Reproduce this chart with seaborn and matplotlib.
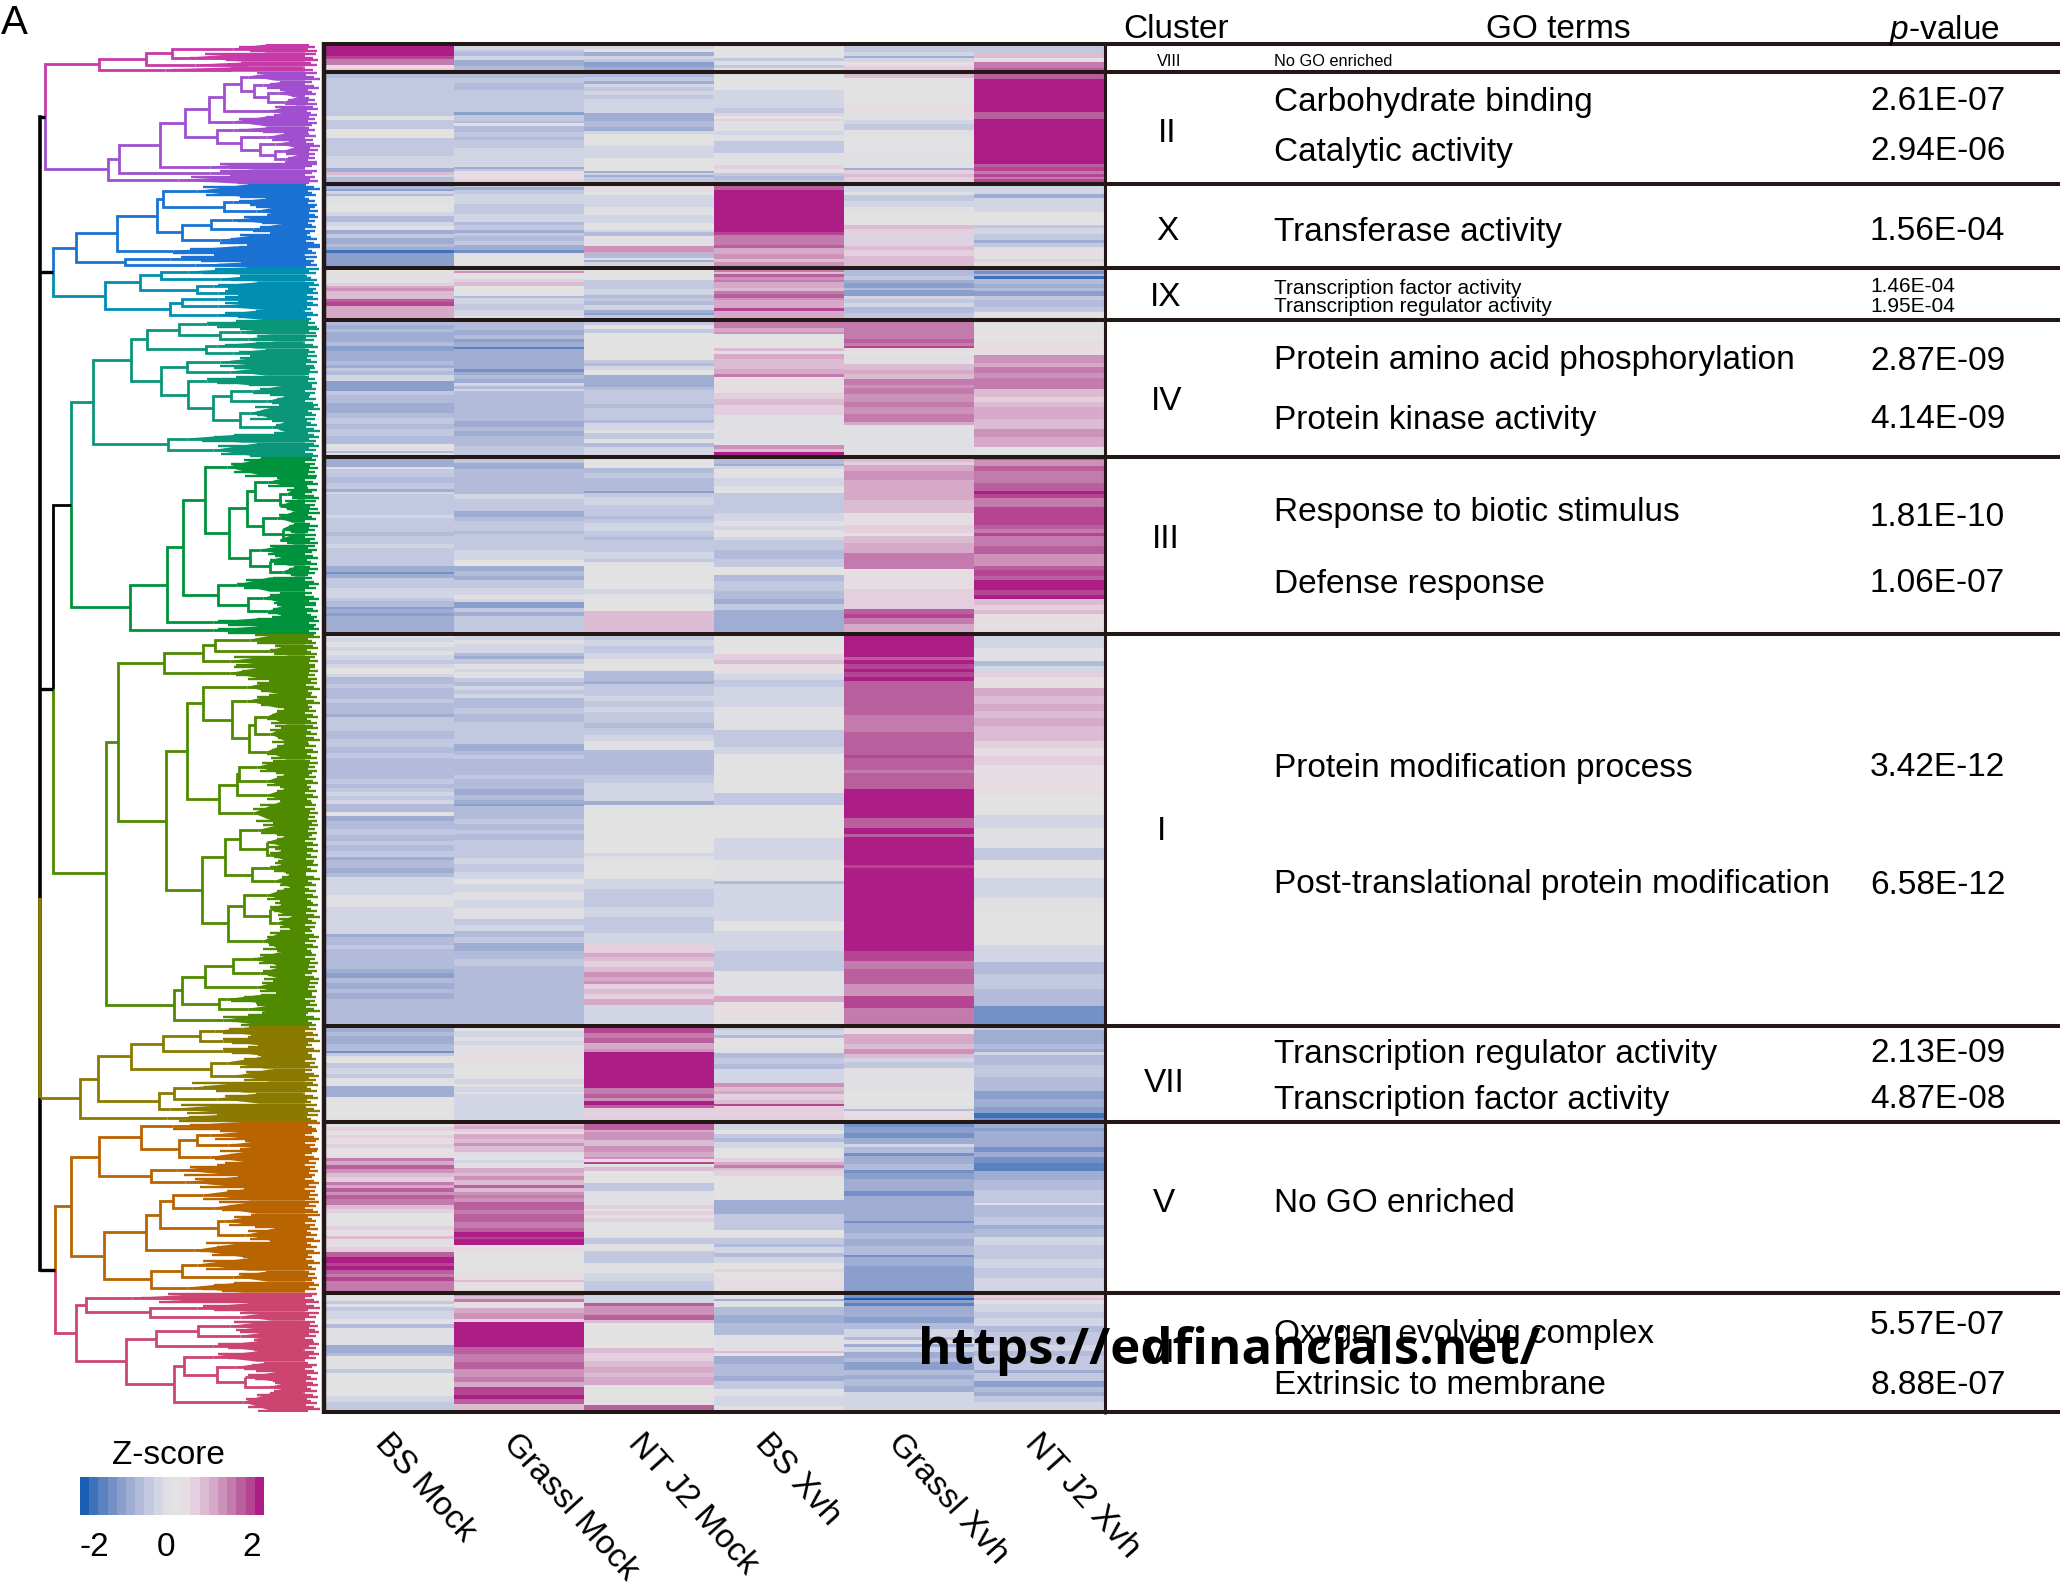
import numpy as np
import pandas as pd
import matplotlib
matplotlib.use('Agg')
import matplotlib.pyplot as plt
from matplotlib.colors import ListedColormap
from matplotlib.collections import LineCollection
import seaborn as sns

# Table on the right of the heatmap
samples = ['BS Mock', 'Grassl Mock', 'NT J2 Mock', 'BS Xvh', 'Grassl Xvh', 'NT J2 Xvh']
cluster_names = ['VIII', 'II', 'X', 'IX', 'IV', 'III', 'I', 'VII', 'V', 'VI']
cluster_rows = [28, 112, 84, 52, 137, 177, 392, 96, 171, 119]
cluster_colors = ['#c83aa8', '#a050cf', '#1a73d2', '#008fb0', '#0a9678',
                  '#00923c', '#4f8a00', '#8a7a00', '#b86400', '#cc4570']
go_terms = ['No GO enriched', 'Carbohydrate binding', 'Catalytic activity', 'Transferase activity',
            'Transcription factor activity', 'Transcription regulator activity',
            'Protein amino acid phosphorylation', 'Protein kinase activity',
            'Response to biotic stimulus', 'Defense response',
            'Protein modification process', 'Post-translational protein modification',
            'Transcription regulator activity', 'Transcription factor activity',
            'No GO enriched', 'Oxygen evolving complex', 'Extrinsic to membrane']
p_values = ['', '2.61E-07', '2.94E-06', '1.56E-04', '1.46E-04', '1.95E-04', '2.87E-09', '4.14E-09',
            '1.81E-10', '1.06E-07', '3.42E-12', '6.58E-12', '2.13E-09', '4.87E-08', '', '5.57E-07', '8.88E-07']

# Colour key, one colour per 0.2 of z-score
key_levels = [-1.9, -1.7, -1.5, -1.3, -1.1, -.9, -.7, -.5, -.3, -.1, .1, .3, .5, .7, .9, 1.1, 1.3, 1.5, 1.7, 1.9]
key_colors = ['#1b5fb4', '#3e72bb', '#5a82c1', '#7490c7', '#8b9fcd', '#a0add3', '#b2bbd9', '#c2c8df', '#d2d5e3', '#e0e0e4',
              '#e2e2e2', '#e6dde3', '#e3cfdd', '#dcbcd2', '#d5a9c7', '#cc92ba', '#c27bac', '#b95f9e', '#b54493', '#ac1e86']

# Heatmap bands per cluster and sample: (z-score, number of rows)
viii_bands = [
    [(2, 12), (1.6, 3), (1.2, 6), (.3, 3), (.5, 4)],
    [(-.3, 6), (-.5, 2), (-.7, 4), (-.4, 4), (-1, 6), (-.8, 6)],
    [(-.4, 5), (-.2, 3), (-.9, 4), (-.3, 3), (-.5, 3), (-1.2, 5), (-1, 5)],
    [(0, 14), (-.6, 3), (-.2, 4), (-.5, 3), (-.2, 4)],
    [(-.6, 8), (-.4, 4), (-1, 2), (-.4, 4), (.2, 4), (.4, 6)],
    [(-.5, 10), (.6, 4), (.3, 4), (1.2, 6), (1.5, 4)],
]
ii_bands = [
    [(-.7, 6), (-.6, 5), (-.5, 4), (-.6, 5), (-.45, 9), (-.55, 8), (-.5, 7), (-.2, 4), (-.5, 4), (-.6, 5), (.1, 9),
     (-.45, 12), (-.55, 6), (-.4, 12), (-.9, 4), (.7, 3), (-.3, 2), (-.8, 7)],
    [(-.7, 6), (-.5, 5), (-.65, 7), (-.5, 6), (-.6, 6), (-.45, 10), (-1.1, 3), (-.6, 6), (-.7, 2), (-.1, 3), (-.7, 6), (-.55, 5),
     (-.8, 3), (-.5, 8), (-.4, 19), (-.9, 2), (-.6, 2), (.2, 8), (.5, 5)],
    [(-.8, 5), (-.6, 4), (-.9, 3), (-.4, 3), (-.6, 4), (-.4, 4), (-.5, 4), (-.4, 14), (-.9, 5), (-1, 3), (-.8, 6), (-1, 4), (-.3, 3),
     (0, 8), (-.15, 4), (-.25, 12), (.1, 13), (-.9, 2), (-.3, 2), (-1, 2), (-.5, 7)],
    [(0, 18), (-.4, 12), (-.3, 6), (-.5, 5), (.4, 3), (.1, 3), (.4, 2), (-.05, 10), (-.3, 4), (-.15, 6), (-.5, 12), (-.2, 12),
     (.4, 4), (.2, 4), (-.6, 3), (-.8, 4), (-.6, 4)],
    [(.6, 6), (.1, 8), (.3, 2), (.05, 16), (.2, 4), (.3, 5), (-.2, 7), (-.4, 4), (-.5, 6), (-.2, 8), (0, 12), (-.2, 18), (-.9, 2),
     (.5, 4), (.7, 3), (.4, 7)],
    [(1.4, 7), (2, 33), (1.5, 7), (2, 4), (1.8, 2), (2, 39), (1.4, 3), (1.7, 4), (1.3, 3), (1.6, 3), (1.2, 2), (1.7, 5)],
]
x_bands = [
    [(-1, 3), (-.8, 2), (-1.2, 2), (-.4, 3), (-.7, 2), (-.2, 8), (0, 8), (-.3, 4), (-.7, 6), (-.4, 4), (-.2, 4), (-.9, 4), (-.6, 4), (-.9, 6),
     (-.8, 3), (-1, 3), (-1.7, 3), (-1.2, 5), (-1.1, 10)],
    [(-.6, 3), (-.9, 3), (-.5, 4), (-.3, 10), (-.5, 10), (-.4, 8), (-.8, 3), (-.6, 5), (-.9, 3), (-.5, 3), (-.8, 5), (-.6, 4), (-.9, 5), (-1.3, 3), (.1, 15)],
    [(.3, 8), (.1, 3), (-.3, 12), (-.2, 8), (-.3, 8), (0, 7), (-.3, 2), (-.8, 4), (-.1, 10), (1.1, 6), (.9, 2), (-.7, 4), (-.2, 2), (-1, 2), (-.3, 7)],
    [(1.8, 2), (1.4, 4), (2, 30), (1.8, 3), (2, 4), (1.9, 5), (1.7, 3), (1.2, 10), (1.4, 3), (.8, 6), (1, 5), (.6, 3), (1, 6)],
    [(-.4, 8), (-.2, 3), (-.5, 6), (-.3, 6), (-.1, 6), (.1, 12), (.7, 4), (.5, 8), (-.3, 4), (.4, 5), (.7, 4), (.5, 6), (.7, 12)],
    [(-.3, 4), (-.4, 6), (-.9, 4), (-.4, 5), (-.3, 9), (0, 13), (-.6, 3), (-.3, 6), (-.5, 6), (-.9, 3), (-.6, 4), (-.2, 5), (.3, 4), (0, 3), (.5, 3), (.2, 6)],
]
ix_bands = [
    [(.1, 6), (.25, 4), (-.05, 5), (.4, 3), (.9, 2), (1.1, 3), (.6, 8), (1.4, 3), (1.6, 4), (.8, 2), (.9, 12)],
    [(.2, 3), (1, 2), (.1, 6), (.5, 3), (.7, 4), (.1, 10), (-.7, 2), (-.4, 6), (-.6, 6), (-.4, 6), (-.2, 4)],
    [(.15, 12), (-.5, 4), (-.6, 5), (-.4, 6), (-.7, 3), (-.5, 3), (-.8, 4), (-.4, 5), (-.9, 3), (-1.2, 2), (-.6, 5)],
    [(1.3, 4), (.7, 2), (1.5, 3), (1.1, 3), (1.3, 2), (.9, 6), (.6, 3), (1.3, 3), (1.5, 4), (1.1, 2), (.8, 8), (1.7, 3), (.9, 9)],
    [(-.8, 8), (-.5, 4), (-.9, 3), (-1.2, 5), (-.8, 2), (-1.1, 6), (-.3, 3), (-.6, 4), (-.3, 4), (-.8, 6), (-.6, 7)],
    [(-.9, 3), (-1.3, 3), (-.7, 2), (-1.6, 3), (-.8, 5), (-1, 4), (-.7, 3), (-1.1, 5), (-.6, 4), (-.8, 7), (-.5, 5), (.1, 8)],
]
iv_bands = [
    [(-.8, 5), (-.9, 4), (-.7, 3), (-.9, 4), (-1, 6), (-.8, 4), (-1.1, 2), (-1.2, 3), (-.9, 6), (-1, 4), (-.8, 4), (-1, 3), (-.6, 3), (-.8, 4), (-.4, 6),
     (-1.1, 10), (-.6, 4), (-.8, 8), (-.9, 6), (-1, 4), (-.8, 5), (-.6, 6), (-.8, 5), (-.5, 7), (-.8, 5), (-.7, 3), (-.2, 7), (-.7, 2), (-.2, 5)],
    [(-.8, 10), (-1, 5), (-.8, 4), (-1.1, 3), (-.9, 5), (-1.5, 2), (-.9, 8), (-1, 5), (-.9, 7), (-1.4, 3), (-.9, 3), (-.7, 4), (-.9, 4), (-.4, 3), (-.7, 3),
     (-.3, 2), (-.8, 12), (-.7, 18), (-.9, 6), (-.7, 4), (-.9, 5), (-.7, 5), (-.8, 5), (-.6, 11)],
    [(-.5, 5), (-.2, 4), (-.6, 4), (.05, 27), (-.5, 3), (-.8, 3), (-.3, 4), (0, 5), (-.9, 12), (-.7, 3), (-.6, 14), (-.7, 4), (-.5, 12), (-.8, 3), (-.3, 7), (-.1, 3), (-.5, 6),
     (-.2, 4), (-.7, 4), (-.4, 10)],
    [(1.2, 8), (.9, 4), (1.1, 2), (.1, 14), (.6, 3), (.3, 3), (.8, 5), (.6, 10), (.9, 5), (1.2, 3), (.2, 16), (.4, 6), (.6, 6), (.4, 10), (-.05, 30), (1, 4), (.7, 3), (2, 7)],
    [(1.2, 19), (1.5, 4), (1.2, 3), (1.7, 2), (.2, 3), (.1, 4), (-.1, 3), (.2, 3), (-.1, 3), (.6, 6), (.8, 4), (.6, 5), (1.2, 6), (1, 3), (1.3, 6), (1.1, 8), (1.3, 5), (1, 7), (1.2, 8), (.8, 3), (-.1, 18)],
    [(0, 14), (.2, 2), (0, 4), (.3, 15), (1.1, 8), (.9, 4), (1.2, 6), (1, 5), (1.2, 5), (1.3, 6), (.7, 8), (.5, 5), (.7, 5), (.9, 12), (.7, 10), (1, 8), (.8, 10), (.1, 10)],
]
iii_bands = [
    [(-.9, 10), (-.2, 2), (-.6, 8), (-.7, 6), (-.55, 6), (-.9, 3), (-.3, 2), (-.6, 18), (-.5, 3), (-.3, 3), (-.6, 8), (-.5, 6), (-.7, 4), (-.55, 8), (-.4, 4), (-.6, 10),
     (-.5, 8), (-1, 6), (-1.4, 2), (-.9, 4), (-.5, 5), (-.6, 5), (-.4, 6), (-.3, 4), (-.6, 3), (-.8, 6), (-1.2, 2), (-.9, 4), (-1.2, 3), (-1, 4)],
    [(-.5, 6), (-1, 6), (-.7, 10), (-.65, 15), (-.4, 5), (-.6, 8), (-.5, 4), (-.85, 6), (-.7, 4), (-.55, 10), (-.8, 3), (-.5, 8), (-.6, 8), (-.4, 10), (0, 6), (-1, 5),
     (-.8, 5), (-1, 4), (-.5, 8), (-.3, 7), (-.1, 4), (-.4, 3), (-1.1, 6), (-.6, 4), (-1, 4), (-.6, 3)],
    [(0, 11), (-.7, 5), (-.5, 5), (-.7, 4), (-.8, 9), (-1.1, 2), (-.6, 4), (-.4, 8), (-.6, 7), (-.45, 4), (-.8, 3), (-.5, 4), (-.3, 8), (-.5, 6), (-.7, 3), (-.45, 12), (-.3, 7),
     (-.5, 3), (-.2, 5), (0, 12), (-.2, 3), (.05, 7), (-.3, 5), (-.2, 5), (0, 12), (.6, 8)],
    [(-.7, 7), (-1, 2), (-.4, 3), (0, 4), (-.1, 5), (-.4, 8), (-.1, 4), (0, 3), (-.45, 12), (-.55, 8), (-.3, 8), (-.1, 5), (-.3, 4), (0, 7), (-.3, 3), (-.6, 10), (-.7, 6), (-.8, 3),
     (-.6, 8), (0, 8), (-.7, 6), (-.55, 10), (-.75, 8), (-.9, 5), (-.6, 6), (-.9, 5), (-1, 7)],
    [(.7, 5), (.5, 3), (.9, 6), (1.1, 9), (.9, 20), (.7, 3), (.6, 10), (.3, 12), (.5, 8), (.1, 3), (.6, 7), (.9, 10), (1.2, 16), (.3, 8), (.2, 12), (.4, 20), (1.4, 5), (1.6, 4), (1.3, 6), (.9, 10)],
    [(1.5, 3), (1.1, 6), (1.4, 5), (1.2, 10), (1.3, 2), (1.5, 8), (1.8, 3), (1.6, 4), (1.3, 9), (1.6, 18), (1.4, 4), (1.2, 4), (1.6, 3), (1.2, 10), (1.4, 8), (1.1, 12), (1.5, 4), (1.7, 6),
     (1.5, 4), (2, 10), (1.7, 5), (1.9, 4), (.6, 6), (.4, 5), (.7, 4), (.3, 4)],
]
i_bands = [
    [(-.2, 4), (-.4, 4), (-.15, 5), (-.35, 4), (-.2, 4), (-.4, 5), (-.5, 4), (-.3, 4), (.05, 6), (-.4, 3), (-.7, 7), (-.6, 4), (-.8, 6), (-.7, 5), (-.6, 4), (-.75, 6), (-.65, 5), (-.85, 3), (-.6, 8), (-.55, 6), (-.65, 8), (-.55, 8),
     (-.7, 6), (-.55, 5), (-.75, 5), (-.65, 6), (-.8, 4), (-.65, 6), (-.55, 5), (-.7, 4), (-.5, 4), (-.35, 4), (-.45, 4), (-.3, 4), (-.7, 8), (.05, 4), (-.85, 5), (-.7, 4), (-.8, 4), (-.6, 6), (-.65, 6), (-.5, 4), (-.7, 6), (-.55, 6),
     (-1, 3), (-.75, 8), (-.85, 5), (-.7, 4), (-.4, 10), (-.3, 8), (-.2, 12), (-.35, 8), (-.25, 10), (-.4, 9), (-1, 3), (-.75, 8), (-.6, 4), (-.7, 8), (-.8, 6), (-.65, 6), (-1, 4), (-1.1, 5), (-.8, 5), (-.9, 6), (-.7, 4), (-.85, 6), (-.7, 7)],
    [(-.35, 6), (-.2, 4), (-.4, 5), (-.3, 4), (-.8, 3), (-1, 3), (-.6, 5), (-.15, 5), (-.3, 3), (-.05, 6), (-.5, 4), (-.65, 4), (-.4, 4), (-.55, 4), (-.3, 4), (-.8, 5), (-.65, 5), (-.55, 6), (-.65, 8), (-.5, 6), (-.6, 8), (-.45, 8),
     (-.85, 5), (-1, 2), (-.7, 4), (-.5, 4), (-.8, 4), (-.65, 6), (-.75, 6), (-.6, 4), (-.8, 6), (-.7, 4), (-.85, 6), (-.7, 5), (-.9, 4), (-1.2, 2), (-.7, 7), (-.8, 6), (-.6, 5), (-.75, 6), (-.6, 4), (-.7, 6), (-.5, 6), (-.6, 6),
     (-.45, 6), (-.3, 6), (-.45, 8), (-.3, 7), (0, 5), (-.3, 8), (-.15, 8), (-.3, 8), (-.2, 5), (-.1, 6), (-.5, 6), (-.3, 6), (-.65, 6), (-.5, 6), (-.9, 8), (-.75, 8), (-.6, 7), (-.75, 7)],
    [(-.5, 6), (-.4, 6), (-.55, 7), (-.35, 6), (-.1, 4), (0, 8), (-.8, 6), (-.7, 4), (-1, 3), (-.6, 6), (-.5, 6), (-.35, 5), (-.45, 6), (-.35, 5), (-.6, 6), (-.5, 5), (-.65, 5), (-.5, 7), (-.35, 6), (-.2, 4), (-.1, 5), (-.7, 5),
     (-.8, 5), (-.65, 4), (-.75, 5), (-.65, 6), (-.5, 8), (-.35, 8), (-.25, 10), (-.9, 4), (.15, 8), (.05, 7), (.1, 12), (0, 11), (.1, 10), (-.4, 3), (-.1, 5), (0, 18), (-.25, 10), (-.45, 10), (-.55, 8), (-.4, 10), (-.5, 8), (-.45, 8), (-.4, 10),
     (.4, 10), (.9, 4), (.7, 4), (.5, 6), (.7, 5), (1.1, 5), (.9, 4), (1, 3), (.5, 5), (.7, 5), (.5, 5), (.8, 6), (-.3, 3)],
    [(0, 20), (.5, 6), (.7, 4), (.3, 10), (-.4, 6), (-.6, 7), (-.3, 20), (-.05, 23), (-.45, 17), (-.4, 7), (0, 22), (.05, 17), (-.5, 12), (0, 33), (-.3, 22), (-.2, 21), (-.7, 3), (-.3, 20), (-.4, 17), (0, 10), (-.3, 20), (-.5, 20), (-.1, 25), (.8, 6), (.2, 18), (.1, 6)],
    [(2, 18), (1.8, 5), (1.5, 3), (1.9, 4), (1.6, 5), (1.9, 3), (1.7, 5), (1.9, 4), (1.5, 6), (1.4, 28), (1.3, 17), (1.5, 13), (1.5, 10), (1.7, 3), (1.4, 12), (1.2, 3), (1.5, 16), (2, 15), (1.8, 4), (2, 10), (1.5, 10), (1.9, 6), (1.5, 3), (2, 28), (1.6, 3), (2, 18), (1.8, 3), (2, 62), (1.6, 10), (1.3, 8), (1.5, 15), (1, 12), (1.7, 12), (1.3, 13)],
    [(-.3, 14), (-.1, 13), (-.7, 5), (-.4, 5), (.5, 6), (.3, 11), (.9, 8), (.7, 8), (.9, 7), (.6, 7), (.8, 8), (.6, 8), (.7, 7), (.5, 7), (.3, 8), (.5, 9), (.3, 10), (.2, 10), (.3, 10), (.05, 10), (.15, 10), (-.4, 13), (-.1, 20), (-.5, 12), (.1, 18), (-.3, 20), (-.2, 15), (.15, 12), (0, 20), (-.4, 17), (-.8, 12), (-.6, 15), (-.7, 17), (-1.4, 7)],
]
vii_bands = [
    [(-.9, 6), (-.7, 4), (-.85, 8), (-.7, 7), (-1.4, 2), (-.6, 3), (-.2, 4), (0, 3), (-.5, 5), (-.3, 6), (-.5, 4), (-.2, 8), (-.9, 4), (-1, 7), (0, 13)],
    [(0, 5), (-.3, 6), (-.2, 4), (-.4, 4), (-.05, 8), (.2, 10), (.05, 6), (0, 10), (-.3, 5), (-.1, 3), (-.35, 5), (.2, 2), (-.4, 12)],
    [(1.6, 7), (1.2, 5), (1.5, 5), (.9, 6), (1.1, 3), (2, 36), (1.3, 6), (1.5, 4), (1.1, 3), (1.8, 4), (1.4, 3), (.4, 8)],
    [(-.6, 4), (-.3, 5), (-.7, 3), (0, 10), (-.2, 5), (-.7, 5), (-.5, 6), (-.7, 5), (-.4, 14), (1, 4), (.6, 4), (.9, 3), (.4, 6), (.6, 4), (1.7, 2), (.4, 6)],
    [(.3, 8), (.9, 10), (.7, 5), (1.1, 5), (.7, 4), (-.4, 4), (-.6, 6), (-.1, 20), (-.2, 4), (.1, 14), (-.2, 3), (-.7, 2), (.3, 9)],
    [(-.6, 4), (-1, 4), (-.9, 4), (-1, 6), (-.8, 5), (-.9, 3), (-.3, 3), (-.7, 10), (-.5, 12), (-.7, 14), (-1.1, 8), (-1, 8), (-1.2, 6), (-1.7, 5), (-1.4, 3)],
]
v_bands = [
    [(0, 5), (.4, 4), (.1, 4), (.5, 3), (.2, 6), (.4, 4), (.1, 6), (.3, 4), (1.2, 3), (.9, 4), (1.4, 4), (1, 4), (.6, 4), (.4, 5), (1.3, 3), (.9, 3), (1.4, 4), (1.1, 3), (1.5, 4), (1.2, 6), (.7, 4), (.4, 4), (.05, 13), (.4, 4), (.2, 6), (.6, 3), (.2, 8), (.4, 5), (1.5, 5), (2, 6), (1.7, 3),
     (2, 4), (1.5, 4), (1.2, 3), (1.6, 4), (1.3, 7)],
    [(.6, 4), (.9, 3), (.5, 3), (.3, 2), (.9, 5), (.6, 4), (1, 3), (.7, 6), (-.1, 5), (.1, 3), (-.3, 3), (.2, 5), (.8, 5), (.6, 3), (1, 4), (.7, 5), (1.4, 3), (.7, 4), (1, 3), (1.3, 3), (1.1, 4), (1.4, 8), (1.2, 4), (1.5, 8), (1.3, 6), (1.5, 4), (1.9, 5), (1.7, 2), (2, 6), (.3, 8), (.1, 12), (0, 8), (.3, 7), (.7, 2), (.2, 8)],
    [(1.5, 8), (.8, 2), (1, 8), (.7, 6), (1.1, 6), (.8, 5), (1.1, 2), (.3, 3), (1.7, 2), (.1, 3), (.7, 4), (.05, 12), (-.5, 8), (-.2, 6), (-.1, 8), (.4, 4), (.1, 2), (.5, 4), (.1, 3), (.4, 4), (.05, 14), (.3, 2), (-.5, 6), (-.2, 7), (-.5, 12), (-.2, 8), (0, 2), (-.4, 8), (-.5, 14)],
    [(-.3, 8), (0, 4), (-.5, 4), (-.7, 4), (-.4, 6), (.1, 10), (.5, 4), (.9, 3), (1.2, 3), (.7, 2), (.5, 6), (.05, 24), (-.9, 14), (-.6, 16), (0, 6), (.3, 2), (-.5, 6), (-.7, 3), (-.4, 6), (-.7, 4), (-.4, 6), (.1, 6), (.5, 3), (0, 6), (.3, 5)],
    [(-1.4, 5), (-1.1, 6), (-1.3, 5), (-1, 6), (-.3, 3), (-.8, 6), (-1.4, 3), (-.9, 8), (-.7, 6), (-1.4, 3), (-1.1, 6), (-.9, 8), (-1, 4), (-1.4, 5), (-.9, 9), (-1, 8), (-.9, 8), (-1.4, 2), (-.9, 10), (-.7, 6), (-.9, 7), (-.8, 9), (-1.4, 2), (-.9, 9), (-1.1, 8), (-1.2, 9)],
    [(-.9, 6), (-1.1, 3), (-.9, 16), (-1.3, 5), (-.9, 5), (-1.3, 6), (-1.5, 8), (-1, 9), (-.8, 10), (-.6, 13), (-.1, 2), (-.8, 12), (-.6, 8), (-1, 4), (-.7, 8), (-.3, 8), (-.5, 14), (-.3, 9), (-.6, 10), (-.4, 12)],
]
vi_bands = [
    [(-.2, 8), (-.5, 3), (-.2, 3), (-.6, 4), (-.3, 8), (-.15, 5), (-.8, 4), (-.2, 8), (-.15, 9), (-.9, 8), (-.8, 3), (-.05, 13), (-.6, 4), (0, 23), (-.3, 6), (-.5, 10)],
    [(1.1, 3), (.7, 3), (1.3, 3), (.3, 6), (.8, 5), (1, 6), (.5, 3), (2, 25), (1.4, 7), (1.2, 8), (1.5, 7), (1.1, 8), (1.3, 5), (.9, 5), (1.7, 8), (1.9, 4), (1.4, 5), (.7, 8)],
    [(-.4, 10), (1.4, 3), (1.1, 9), (1.5, 5), (.7, 3), (0, 25), (.7, 5), (.4, 8), (.7, 6), (.9, 6), (.6, 4), (.9, 8), (.1, 15), (.3, 5), (1.5, 7)],
    [(.2, 2), (-.2, 4), (-1, 2), (-.1, 6), (-.8, 8), (-.9, 8), (-.7, 12), (-.2, 16), (.6, 2), (0, 3), (-.9, 8), (-.7, 12), (-.9, 5), (-.5, 8), (-.2, 7), (-.4, 10), (-.1, 6)],
    [(-1.4, 5), (-1.8, 2), (-1.1, 3), (-1.5, 3), (-1, 5), (-.9, 6), (-1.1, 6), (-.8, 6), (-.4, 8), (-.7, 3), (-.2, 4), (-.9, 3), (-.4, 5), (-.9, 6), (-.7, 4), (-1.1, 8), (-.8, 5), (-1, 4), (-.7, 7), (-.9, 6), (-.3, 14)],
    [(.4, 5), (.7, 2), (.3, 4), (-.3, 8), (-.6, 6), (-.4, 8), (-.7, 6), (-.5, 8), (-.6, 5), (-.4, 6), (-.7, 5), (-.5, 14), (-.9, 3), (-.5, 8), (-1.1, 6), (-.7, 5), (-1, 4), (-.5, 6), (-.3, 10)],
]
all_bands = [viii_bands, ii_bands, x_bands, ix_bands, iv_bands, iii_bands, i_bands, vii_bands, v_bands, vi_bands]

# Dendrogram per cluster: branch = (level, upper, lower), leaf group = (level, rows)
viii_tree = (99, (146, (172, (233, 9), (190, 9)), (195, 5)), (165, 5))
ii_tree = (108, (119, (160, (185, (209, (224, (241, (248, 9), (254, (263, 8), (268, (278, 8), (285, 9)))), (270, 10)), (233, 11)),
                               (217, (233, 6), (241, (267, 8), (260, (275, 6), (275, (283, 8), (285, 8)))))), (210, 7)), (210, 6)), (178, 8))
x_tree = (76, (117, (157, (163, (197, 14), (224, (233, 8), (256, 10))), (182, (211, (232, 8), (253, 10)), (220, 12))), (173, 10)),
          (125, (170, 6), (195, 6)))
ix_tree = (105, (140, (161, (188, 7), (220, 7)), (197, (213, 8), (218, 6))), (170, (182, (218, 6), (218, 8)), (217, 10)))
iv_tree = (93, (131, (147, (179, (207, 8), (220, (240, 7), (248, 7))), (206, (217, 7), (233, 8))),
                (161, (187, (220, 10), (230, 9)), (188, (207, 10), (213, (231, (253, 10), (267, 10)), (240, (250, 14), (272, 14)))))),
           (168, (187, 9), (213, 14)))
iii_tree = (130, (167, (183, (205, (227, 20), (229, (247, (255, (268, 10), (280, (287, 13), (280, 12))), (263, (277, 11), (283, (283, 11), (280, 11)))),
                                                (250, (260, 10), (270, (270, 11), (283, 11))))),
                          (218, (237, 15), (248, (263, 12), (268, 14)))), (213, 8)), (213, 8))
i_tree = (106, (118, (164, (203, (215, (250, 11), (270, 11)), (230, 10)), (230, 14)),
                (166, (187, (203, (247, 14), (232, (247, 14), (249, (255, (267, 17), (270, 18)), (267, 17)))),
                        (219, (237, (239, (257, 14), (267, 14)), (267, 14)), (253, 22))),
                      (202, (225, (240, (258, 12), (267, (267, 12), (270, 14))), (252, (270, 12), (275, 14))),
                            (228, (244, (267, 14), (270, (270, 14), (277, 14))), (263, 22))))),
          (174, (182, (205, (233, (253, 14), (260, 14)), (257, 14)), (219, (227, 10), (248, 10))), (223, 12)))
vii_tree = (80, (98, (131, (163, (200, (215, 10), (223, 10)), (223, 10)), (211, (227, 13), (237, 13))),
                 (159, (174, (192, 11), (217, 11)), (170, 10))), (167, 8))
v_tree = (71, (99, (141, (173, 8), (179, (197, (210, 10), (228, 10)), (210, 14))), (151, (177, 12), (185, 12))),
          (104, (146, (160, (173, (203, 13), (214, 13)), (218, (225, 14), (245, 14))), (194, 16)),
           (151, (182, (197, 13), (233, 11)), (187, 11))))
vi_tree = (76, (86, (132, 10), (150, (197, 9), (240, 9))),
           (126, (156, (198, (230, 10), (240, 10)), (213, 10)), (174, (184, (213, 11), (217, (235, 10), (245, (245, 10), (270, 10)))), (243, 20))))
trees = [viii_tree, ii_tree, x_tree, ix_tree, iv_tree, iii_tree, i_tree, vii_tree, v_tree, vi_tree]

leaf_ends = [4, -3, 6, 1, -6, 3, 8, -2, 5, -8, 2, 7, -4, 0, 6, -5, 3, 9, -3, 1, 5, -7, 4, -1, 7, -2]
leaf_starts = [.0, .3, .1, .4, .2, .45, .05, .35, .15, .42, .08, .38, .22, .48, .12, .28]

DARK = '#231815'
LINE_W = 2.9


def expand(bands, n):
    col = np.repeat([b[0] for b in bands], [b[1] for b in bands])
    if len(col) < n:
        col = np.r_[col, np.full(n - len(col), col[-1])]
    return col[:n]


def draw_fan(ax, level, top, rows, color):
    # one short line per leaf, they merge into a solid block
    tip = 311
    bottom = top + rows
    segs = []
    ys = np.arange(top + 1, bottom, 2.0)
    for i, y in enumerate(ys):
        k = i + int(level)
        start = level + (tip - level) * leaf_starts[k % len(leaf_starts)]
        segs.append([(start, y), (tip + leaf_ends[k % len(leaf_ends)], y)])
    ax.add_collection(LineCollection(segs, colors=color, linewidths=1.7, capstyle='butt'))
    knee = level + (tip - level) * .45
    ax.fill([level, knee, tip - 6, tip - 6, knee], [top + rows * .5, top + .3, top + .3, bottom - .3, bottom - .3], color=color, lw=0)
    ax.plot([level, knee], [top + rows * .5, top + rows * .5], color=color, lw=2, solid_capstyle='butt')


def draw_tree(ax, tree, top, color):
    if len(tree) == 2:
        draw_fan(ax, tree[0], top, tree[1], color)
        return tree[0], top + tree[1] / 2, top + tree[1]
    level, upper, lower = tree
    ux, uy, mid = draw_tree(ax, upper, top, color)
    lx, ly, bottom = draw_tree(ax, lower, mid, color)
    ax.plot([ux, level, level, lx], [uy, uy, ly, ly], color=color, lw=2, solid_joinstyle='miter', solid_capstyle='butt')
    return level, (uy + ly) / 2, bottom


def join(ax, level, first, second):
    # branch whose two arms keep the colours of their own clusters
    for x, y, color in (first, second):
        mid = (first[1] + second[1]) / 2
        ax.plot([x, level, level], [y, y, mid], color=color, lw=2, solid_joinstyle='miter', solid_capstyle='butt')
    return level, (first[1] + second[1]) / 2


def main():
    sns.set_theme(style='white')
    plt.rcParams['font.family'] = ['Liberation Sans', 'DejaVu Sans']
    plt.rcParams['mathtext.fontset'] = 'custom'
    plt.rcParams['mathtext.it'] = 'Liberation Sans:italic'
    plt.rcParams['mathtext.rm'] = 'Liberation Sans'

    W, H = 2065, 1584
    fig = plt.figure(figsize=(W / 100, H / 100), dpi=100, facecolor='white')

    def box(x0, y0, x1, y1):
        return [x0 / W, 1 - y1 / H, (x1 - x0) / W, (y1 - y0) / H]

    cmap = ListedColormap(key_colors)

    # heatmap
    rows = np.vstack([np.column_stack([expand(col, n) for col in bands]) for bands, n in zip(all_bands, cluster_rows)])
    df = pd.DataFrame(rows, columns=samples)
    ax_heat = fig.add_axes(box(324, 44, 1104, 1412))
    sns.heatmap(df, ax=ax_heat, cmap=cmap, vmin=-2, vmax=2, cbar=False, xticklabels=False, yticklabels=False)

    # colour key
    ax_key = fig.add_axes(box(80, 1477, 264, 1515))
    sns.heatmap(np.array([key_levels]), ax=ax_key, cmap=cmap, vmin=-2, vmax=2, cbar=False, xticklabels=False, yticklabels=False)

    # dendrogram, same row scale as the heatmap
    ax_tree = fig.add_axes(box(0, 44, 324, 1412))
    ax_tree.set_xlim(0, 324)
    ax_tree.set_ylim(sum(cluster_rows), 0)
    ax_tree.axis('off')
    tops = np.r_[0, np.cumsum(cluster_rows)]
    nodes = []
    for tree, top, color in zip(trees, tops, cluster_colors):
        x, y, _ = draw_tree(ax_tree, tree, top, color)
        nodes.append((x, y, color))
    viii, ii, x_c, ix, iv, iii, i_c, vii, v, vi = nodes
    x1, y1 = join(ax_tree, 45, viii, ii)
    x2, y2 = join(ax_tree, 53, x_c, ix)
    x3, y3 = join(ax_tree, 71, iv, iii)
    x4, y4 = join(ax_tree, 53, (x3, y3, 'black'), i_c)
    x5, y5 = join(ax_tree, 55, v, vi)
    root = 40
    for xx, yy in [(x1, y1), (x2, y2), (x4, y4), (x5, y5)]:
        ax_tree.plot([root, xx], [yy, yy], color='black', lw=2.4, solid_capstyle='butt')
    ax_tree.plot([root, root], [y1, y5], color='black', lw=2.6, solid_capstyle='projecting')
    ax_tree.plot([root, vii[0]], [vii[1], vii[1]], color=vii[2], lw=2, solid_capstyle='butt')
    ax_tree.plot([root, root], [854, vii[1]], color=vii[2], lw=2.6, solid_capstyle='butt')

    # page layer for the table, labels and rules, in pixels
    page = fig.add_axes([0, 0, 1, 1], zorder=5)
    page.set_xlim(0, W)
    page.set_ylim(H, 0)
    page.axis('off')
    page.patch.set_alpha(0)

    rules = [44, 72, 184, 268, 320, 457, 634, 1026, 1122, 1293, 1412]
    for y in rules:
        page.plot([322, 2060], [y, y], color=DARK, lw=LINE_W, solid_capstyle='butt')
    page.plot([324, 324], [42, 1414], color=DARK, lw=3.2, solid_capstyle='butt')
    page.plot([1105, 1105], [42, 1414], color=DARK, lw=2.2, solid_capstyle='butt')

    big = 24
    page.text(1176, 30, 'Cluster', fontsize=big, ha='center', va='center', color='black')
    page.text(1558, 30, 'GO terms', fontsize=big, ha='center', va='center', color='black')
    page.text(1944, 30, r'$\mathit{p}$-value', fontsize=big, ha='center', va='center', color='black')

    name_x = [1169, 1167, 1167, 1166, 1167, 1166, 1162, 1164, 1164, 1160]
    name_y = [59, 130, 229, 295, 398, 537, 828, 1081, 1201, 1350]
    for k, name in enumerate(cluster_names):
        page.text(name_x[k], name_y[k] + 3, name, fontsize=11.8 if name == 'VIII' else big, ha='center', va='center', color='black')

    term_y = [59, 100, 149, 229, 285, 303, 358, 417, 509, 581, 765, 882, 1051, 1097, 1201, 1331, 1383]
    p_y = [59, 98, 148, 229, 284, 303, 358, 417, 515, 581, 765, 882, 1051, 1097, 1201, 1322, 1383]
    for k, (term, p) in enumerate(zip(go_terms, p_values)):
        size = big
        if k == 0:
            size = 11.8
        elif k in (4, 5):
            size = 15
        page.text(1274, term_y[k] + 3, term, fontsize=size, ha='left', va='center', color='black')
        if p:
            page.text(1870, p_y[k] + 3, p, fontsize=size, ha='left', va='center', color='black')

    label_x = [392, 520, 645, 772, 905, 1042]
    for name, x in zip(samples, label_x):
        page.text(x, 1428, name, fontsize=big, rotation=-48, rotation_mode='anchor', ha='left', va='top', color='black')

    page.text(168, 1456, 'Z-score', fontsize=big, ha='center', va='center', color='black')
    for x, s in zip([94, 166, 252], ['-2', '0', '2']):
        page.text(x, 1548, s, fontsize=big, ha='center', va='center', color='black')
    page.text(14, 23, 'A', fontsize=29, ha='center', va='center', color='black')

    page.text(1229, 1351, 'https://edfinancials.net/', fontsize=36.7, fontweight='bold', family='Open Sans',
              ha='center', va='center', color='black')

    fig.savefig('out.png', dpi=100, facecolor='white')


if __name__ == "__main__":
    main()
